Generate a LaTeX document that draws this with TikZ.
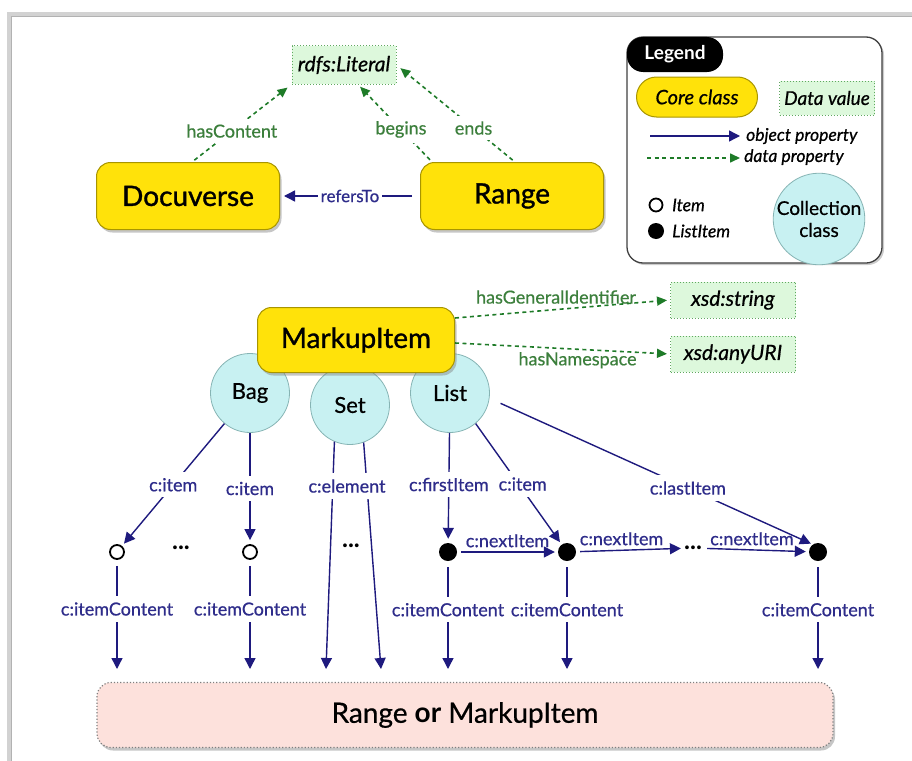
\documentclass[tikz,border=0pt]{standalone}
\usepackage{fontspec}
\setmainfont{Lato}
\newfontfamily\corefont{Lato}[FakeBold=1.2]
\newfontfamily\medfont{Lato}[FakeBold=0.6]
\usetikzlibrary{arrows.meta,shadows}
\definecolor{navy}{HTML}{1E1A7E}
\definecolor{lblblue}{HTML}{2E2C8A}
\definecolor{dgreen}{HTML}{1E7B28}
\definecolor{lblgreen}{HTML}{3C7F3C}
\definecolor{coreyellow}{HTML}{FFE20A}
\definecolor{coreborder}{HTML}{A89500}
\definecolor{datafill}{HTML}{DDF8DC}
\definecolor{databorder}{HTML}{5FA85F}
\definecolor{collfill}{HTML}{C8F1F2}
\definecolor{collborder}{HTML}{86B4B4}
\definecolor{pinkfill}{HTML}{FDE1DC}
\tikzset{
  core/.style={draw=coreborder, line width=1pt, fill=coreyellow, rounded corners=14pt,
    minimum width=183pt, minimum height=67pt, font=\corefont\fontsize{28}{30}\selectfont,
    drop shadow={shadow xshift=2pt, shadow yshift=-3pt, opacity=0.45}},
  dataval/.style={draw=databorder, dotted, line width=1pt, fill=datafill,
    font=\medfont\itshape\fontsize{21}{23}\selectfont, minimum height=36pt, inner sep=2pt},
  coll/.style={circle, draw=collborder, line width=0.8pt, fill=collfill, minimum size=79pt,
    inner sep=0pt, font=\medfont\fontsize{22}{24}\selectfont},
  obj/.style={draw=navy, line width=1.4pt, -{Triangle[length=11pt,width=11pt]}},
  data/.style={draw=dgreen, line width=1.6pt, dash pattern=on 4pt off 3.5pt,
    -{Triangle[length=10pt,width=9pt]}},
  lbl/.style={fill=white, text=lblblue, font=\medfont\fontsize{18}{20}\selectfont,
    inner xsep=3pt, inner ysep=6pt},
  nlbl/.style={above, text=lblblue, font=\medfont\fontsize{18}{20}\selectfont, inner xsep=1pt, inner ysep=4pt},
  glbl/.style={fill=white, text=lblgreen, font=\medfont\fontsize{18}{20}\selectfont,
    inner xsep=3pt, inner ysep=5pt},
  glbl2/.style={text=lblgreen, font=\medfont\fontsize{18}{20}\selectfont},
  itm/.style={circle, draw=black, line width=1.8pt, fill=white, minimum size=14pt, inner sep=0pt},
  litm/.style={circle, fill=black, minimum size=18pt, inner sep=0pt},
  dots/.style={font=\bfseries\fontsize{25}{25}\selectfont, inner sep=1pt},
  legtxt/.style={font=\medfont\itshape\fontsize{17.5}{19}\selectfont, inner sep=0pt}
}
\begin{document}
\begin{tikzpicture}[x=1pt,y=-1pt]
\useasboundingbox (0,0) rectangle (912,760);
\clip (0,0) rectangle (912,760);
% frame
\draw[line width=4pt, color=gray!35] (9,14) rectangle (1000,1000);
\draw[line width=0.8pt, color=gray!60] (11.3,16.3) rectangle (1000,1000);

% ---------- top part ----------
\node[dataval, minimum width=104pt, minimum height=38pt] (lit) at (344,65) {rdfs:Literal};
\node[core] (docu) at (188,196) {Docuverse};
\node[core] (range) at (512,196) {Range};

\draw[obj, shorten >=4pt, shorten <=8pt] (range) -- node[lbl, inner ysep=3pt, font=\medfont\fontsize{17}{19}\selectfont] {refersTo} (docu);
\draw[data, shorten <=3pt, shorten >=5pt] ([xshift=4pt]docu.north) -- node[glbl, pos=0.4] {hasContent} (lit.south west);
\draw[data, shorten <=3pt, shorten >=3pt] ([xshift=12pt]range.north west) -- node[glbl, pos=0.42] {begins} ([xshift=14pt]lit.south);
\draw[data, shorten <=3pt, shorten >=5pt] ([xshift=3pt]range.north) -- node[glbl, pos=0.35] {ends} (lit.east);

% ---------- legend ----------
\node[draw=black!75, line width=1.3pt, fill=white, rounded corners=16pt, minimum width=255pt,
  minimum height=226pt, drop shadow={shadow xshift=2pt, shadow yshift=-2pt, opacity=0.4}]
  (legend) at (754.5,150) {};
\node[fill=black, text=white, rounded corners=16pt, minimum width=96pt, minimum height=35pt,
  font=\bfseries\fontsize{19}{21}\selectfont, inner sep=0pt] (legtitle) at (675,54.5) {Legend};
\node[draw=coreborder, line width=1pt, fill=coreyellow, rounded corners=20pt, minimum width=121pt,
  minimum height=40pt, font=\medfont\itshape\fontsize{20}{22}\selectfont, inner sep=0pt] (legcore) at (697,97) {Core class};
\node[dataval, minimum width=95pt, minimum height=34pt, font=\medfont\itshape\fontsize{19}{21}\selectfont, inner sep=0pt]
  (legdata) at (827,98) {Data value};
\coordinate (lo1) at (650,136);
\coordinate (lo2) at (740,136);
\draw[obj] (lo1) -- (lo2);
\node[legtxt, anchor=west] (legobj) at (746,136) {object property};
\coordinate (ld1) at (647,158);
\coordinate (ld2) at (740,158);
\draw[data] (ld1) -- (ld2);
\node[legtxt, anchor=west] (legdp) at (744,157) {data property};
\node[itm, minimum size=13pt] (legitem) at (656,205) {};
\node[legtxt, anchor=west] (legitemt) at (672,205) {Item};
\node[litm, minimum size=16pt] (leglitem) at (656,231) {};
\node[legtxt, anchor=west] (leglitemt) at (672,231) {ListItem};
\node[coll, minimum size=88pt, font=\medfont\fontsize{19}{22}\selectfont, align=center] (legcoll) at (819,219) {Collection\\class};

% ---------- MarkupItem ----------
\node[coll] (bag) at (250,393) {Bag};
\node[coll] (set) at (350,405) {Set};
\node[coll] (list) at (450,393) {List};
\node[core, minimum width=197pt, minimum height=65pt] (mi) at (356,340) {MarkupItem};

\node[dataval, minimum width=125pt] (xstr) at (733,300) {xsd:string};
\node[dataval, minimum width=125pt] (xuri) at (733,354) {xsd:anyURI};
\draw[data, shorten >=3pt] ([yshift=22pt]mi.east) -- node[glbl2, above, pos=0.47, inner sep=5pt] {hasGeneralIdentifier} (xstr.west);
\draw[data, shorten >=3pt] ([yshift=-3pt]mi.east) -- node[glbl2, below, pos=0.57, inner sep=2pt] {hasNamespace} (xuri.west);

% ---------- bottom box ----------
\node[draw=gray, dotted, line width=1.2pt, fill=pinkfill, rounded corners=14pt, minimum width=736pt,
  minimum height=65pt, font=\medfont\fontsize{28}{30}\selectfont,
  drop shadow={shadow xshift=2pt, shadow yshift=-3pt, opacity=0.45}] (bot) at (465,715)
  {Range {\rmfamily\bfseries or} MarkupItem};

% ---------- items ----------
\node[itm] (i1) at (117,552) {};
\node[itm] (i2) at (250,552) {};
\node[litm] (l1) at (448,552) {};
\node[litm] (l2) at (567,552) {};
\node[litm] (l3) at (818,552) {};
\node[dots] (d1) at (181,548) {...};
\node[dots] (d2) at (351,546) {...};
\node[dots] (d3) at (693,548) {...};

\coordinate (t1) at (117,669);
\coordinate (t2) at (250,669);
\coordinate (t3) at (326,669);
\coordinate (t4) at (381,669);
\coordinate (t5) at (448,669);
\coordinate (t6) at (567,669);
\coordinate (t7) at (818,669);

% Bag
\draw[obj, shorten >=3pt] (bag) -- node[lbl, pos=0.5] {c:item} (i1);
\draw[obj, shorten >=4pt] (bag) -- node[lbl] {c:item} (i2);
% Set
\draw[obj] (set.-113) -- (t3);
\draw[obj] (set.-70) -- (t4);
\node[lbl] (elemlbl) at (347,486) {c:element};
% List
\draw[obj, shorten >=4pt] (list) -- node[lbl, pos=0.47] {c:firstItem} (l1);
\draw[obj, shorten >=3pt] (list.-50) -- node[lbl, pos=0.5, xshift=4pt] {c:item} (l2);
\draw[obj, shorten >=2pt] ([xshift=12pt]list.-15) -- node[lbl, pos=0.6] {c:lastItem} (l3.125);
% next items
\draw[obj, shorten <=4pt, shorten >=3pt] (l1) -- node[nlbl] {c:nextItem} (l2);
\draw[obj, shorten <=4pt, shorten >=2pt] (l2) -- node[nlbl, xshift=-8pt] {c:nextItem} (d3);
\draw[obj, shorten <=4pt, shorten >=3pt] (d3) -- node[nlbl, xshift=-4pt] {c:nextItem} (l3);
% item contents
\draw[obj, shorten <=6pt] (i1) -- node[lbl, pos=0.45] {c:itemContent} (t1);
\draw[obj, shorten <=6pt] (i2) -- node[lbl, pos=0.45] {c:itemContent} (t2);
\draw[obj, shorten <=6pt] (l1) -- node[lbl, pos=0.45] {c:itemContent} (t5);
\draw[obj, shorten <=6pt] (l2) -- node[lbl, pos=0.45] {c:itemContent} (t6);
\draw[obj, shorten <=6pt] (l3) -- node[lbl, pos=0.45] {c:itemContent} (t7);
\end{tikzpicture}
\end{document}
